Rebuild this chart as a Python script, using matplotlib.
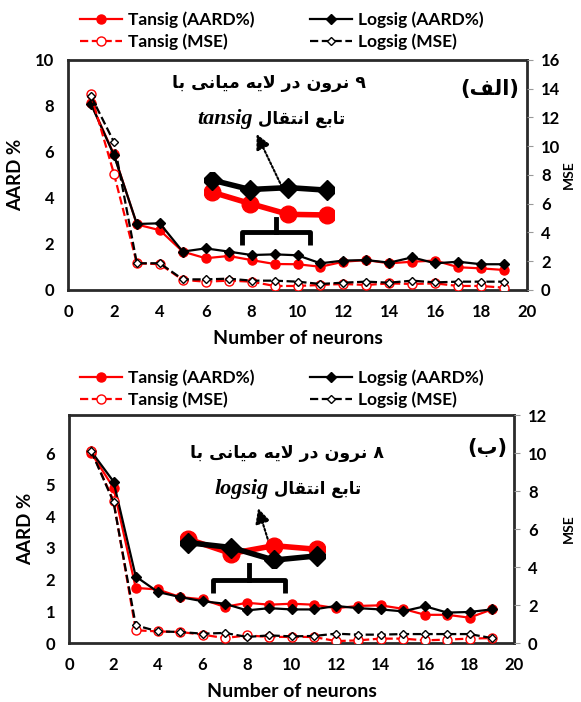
import numpy as np
import matplotlib
matplotlib.use('Agg')
import matplotlib.pyplot as plt
from matplotlib.lines import Line2D

plt.rcParams['font.family'] = ['Lato', 'DejaVu Sans']
plt.rcParams['font.weight'] = 'bold'

####################################################################
# data
neurons = np.arange(1, 20)

# (a) top chart
top_tan_aard = [8.12, 5.9, 2.85, 2.6, 1.67, 1.38, 1.48, 1.30, 1.13, 1.12,
                1.01, 1.23, 1.30, 1.16, 1.23, 1.28, 0.99, 0.94, 0.87]
top_log_aard = [8.09, 5.87, 2.87, 2.9, 1.67, 1.81, 1.67, 1.52, 1.55, 1.51,
                1.16, 1.28, 1.30, 1.19, 1.42, 1.16, 1.23, 1.12, 1.12]
top_tan_mse = [13.6, 8.1, 1.85, 1.8, 0.70, 0.58, 0.65, 0.58, 0.28, 0.28,
               0.35, 0.42, 0.35, 0.46, 0.42, 0.46, 0.28, 0.28, 0.16]
top_log_mse = [13.5, 10.3, 1.86, 1.86, 0.74, 0.74, 0.79, 0.65, 0.65, 0.58,
               0.42, 0.51, 0.58, 0.51, 0.65, 0.53, 0.58, 0.58, 0.58]

# (b) bottom chart
bot_tan_aard = [6.0, 4.9, 1.74, 1.69, 1.45, 1.38, 1.14, 1.27, 1.21, 1.24,
                1.21, 1.10, 1.17, 1.19, 1.08, 0.89, 0.89, 0.80, 1.06]
bot_log_aard = [6.05, 5.1, 2.1, 1.61, 1.45, 1.32, 1.24, 1.03, 1.10, 1.06,
                1.06, 1.17, 1.10, 1.06, 1.00, 1.16, 0.96, 0.98, 1.06]
bot_tan_mse = [10.1, 7.5, 0.67, 0.61, 0.58, 0.44, 0.26, 0.40, 0.32, 0.32,
               0.32, 0.10, 0.14, 0.23, 0.23, 0.14, 0.18, 0.23, 0.26]
bot_log_mse = [10.1, 7.42, 0.93, 0.61, 0.58, 0.49, 0.53, 0.32, 0.40, 0.35,
               0.37, 0.49, 0.44, 0.44, 0.47, 0.47, 0.47, 0.47, 0.26]

labels = ['Tansig (AARD%)', 'Tansig (MSE)', 'Logsig (AARD%)', 'Logsig (MSE)']
####################################################################

# minimal persian shaping (matplotlib has no arabic layout)
AR_FORMS = {
    'ا': ('\ufe8d', '\ufe8e'), 'د': ('\ufea9', '\ufeaa'),
    'ر': ('\ufead', '\ufeae'), 'و': ('\ufeed', '\ufeee'),
    'ب': ('\ufe8f', '\ufe90', '\ufe91', '\ufe92'),
    'ت': ('\ufe95', '\ufe96', '\ufe97', '\ufe98'),
    'ع': ('\ufec9', '\ufeca', '\ufecb', '\ufecc'),
    'ف': ('\ufed1', '\ufed2', '\ufed3', '\ufed4'),
    'ق': ('\ufed5', '\ufed6', '\ufed7', '\ufed8'),
    'ل': ('\ufedd', '\ufede', '\ufedf', '\ufee0'),
    'م': ('\ufee1', '\ufee2', '\ufee3', '\ufee4'),
    'ن': ('\ufee5', '\ufee6', '\ufee7', '\ufee8'),
    'ه': ('\ufee9', '\ufeea', '\ufeeb', '\ufeec'),
    'ی': ('\ufbfc', '\ufbfd', '\ufbfe', '\ufbff'),
}


def shape_fa(text):
    out = []
    prev_joins = False
    i = 0
    while i < len(text):
        c = text[i]
        nxt = text[i + 1] if i + 1 < len(text) else ''
        if c == 'ل' and nxt == 'ا':
            out.append('\ufefc' if prev_joins else '\ufefb')
            prev_joins = False
            i += 2
            continue
        forms = AR_FORMS.get(c)
        if forms is None:
            out.append(c)
            prev_joins = False
        elif len(forms) == 4 and nxt in AR_FORMS:
            out.append(forms[3] if prev_joins else forms[2])
            prev_joins = True
        else:
            out.append(forms[1] if prev_joins else forms[0])
            prev_joins = False
        i += 1
    return ''.join(reversed(out)).translate(str.maketrans('()', ')('))


FA_FONT = 'DejaVu Sans'
W, H = 581, 702


def fig_rect(l, t, r, b):
    return [l / W, 1 - b / H, (r - l) / W, (b - t) / H]


def draw_panel(ax, tan_aard, log_aard, tan_mse, log_mse, ylim, mse_lim, yticks, mse_ticks, mse_x):
    ax.plot(neurons, tan_aard, '-o', color='red', lw=1.6, ms=6.5, zorder=3)
    ax.plot(neurons, log_aard, '-D', color='black', lw=1.6, ms=5, zorder=4)
    ax.set_xlim(0, 20)
    ax.set_ylim(*ylim)
    ax.set_xticks(range(0, 21, 2))
    ax.set_yticks(yticks)
    ax.tick_params(axis='both', length=0, labelsize=12, pad=10)
    ax.set_xlabel('Number of neurons', fontsize=14, fontweight='bold', labelpad=7)
    ax.set_ylabel('AARD %', fontsize=13.5, fontweight='bold', labelpad=8)
    for s in ax.spines.values():
        s.set_linewidth(2)
        s.set_color('#2a2a2a')

    ax2 = ax.twinx()
    ax2.plot(neurons, tan_mse, '--o', color='red', lw=1.6, ms=6.5, mfc='white', zorder=3)
    ax2.plot(neurons, log_mse, '--D', color='black', lw=1.6, ms=4.5, mfc='white', zorder=4)
    ax2.set_ylim(*mse_lim)
    ax2.set_yticks(mse_ticks)
    ax2.tick_params(axis='y', length=4, color='#999999', labelsize=12, pad=6)
    ax2.set_ylabel('MSE', fontsize=10, fontweight='bold')
    ax2.yaxis.set_label_coords(mse_x, 0.5)
    for s in ax2.spines.values():
        s.set_visible(False)
    return ax2


def draw_inset(rect, xlim, ylim, idx, tan_aard, log_aard):
    ins = fig.add_axes(rect)
    sel = slice(idx[0], idx[1])
    ins.plot(neurons[sel], np.array(tan_aard)[sel], '-o', color='red', lw=4, ms=12)
    ins.plot(neurons[sel], np.array(log_aard)[sel], '-D', color='black', lw=4, ms=10)
    ins.set_xlim(*xlim)
    ins.set_ylim(*ylim)
    ins.axis('off')


def draw_bracket(ax, x0, x1, y_end, y_mid, y_top):
    xm = (x0 + x1) / 2
    ax.plot([x0, x0, x1, x1], [y_end, y_mid, y_mid, y_end], color='black', lw=3.5,
            transform=ax.transAxes, solid_joinstyle='round', solid_capstyle='butt', zorder=6)
    ax.plot([xm, xm], [y_mid, y_top], color='black', lw=3.5, transform=ax.transAxes, zorder=6)


def draw_arrow(ax, start, end):
    ax.annotate('', xy=end, xytext=start, xycoords='axes fraction', textcoords='axes fraction',
                arrowprops=dict(arrowstyle='-|>,head_length=0.9,head_width=0.45', color='black',
                                lw=1.5, linestyle=(0, (1, 1)), shrinkA=0, shrinkB=0), zorder=7)


fig = plt.figure(figsize=(W / 100, H / 100), dpi=100)

# ---- top panel (الف)
ax_top = fig.add_axes(fig_rect(68, 60, 527, 290))
draw_panel(ax_top, top_tan_aard, top_log_aard, top_tan_mse, top_log_mse,
           (0, 10), (0, 16), range(0, 11, 2), range(0, 17, 2), 1.078)
ax_top.text(0.919, 0.874, shape_fa('(الف)'), transform=ax_top.transAxes, ha='center', va='center',
            fontsize=15, fontweight='bold', family=FA_FONT)
ax_top.text(0.438, 0.90, shape_fa('۹ نرون در لایه میانی با'), transform=ax_top.transAxes,
            ha='center', va='center', fontsize=12.5, fontweight='bold', family=FA_FONT)
ax_top.text(0.413, 0.743, shape_fa('تابع انتقال'), transform=ax_top.transAxes,
            ha='left', va='center', fontsize=12, fontweight='bold', family=FA_FONT)
ax_top.text(0.403, 0.743, 'tansig', transform=ax_top.transAxes, ha='right', va='center',
            fontsize=16, fontweight='bold', style='italic', family='Liberation Serif')
draw_bracket(ax_top, 0.378, 0.527, 0.196, 0.253, 0.309)
draw_arrow(ax_top, (0.466, 0.449), (0.411, 0.678))
draw_inset(fig_rect(204, 171.7, 334.4, 225.8), (6.8, 10.2), (0.95, 1.8), (6, 10),
           top_tan_aard, top_log_aard)

# ---- bottom panel (ب)
ax_bot = fig.add_axes(fig_rect(69, 415, 514, 643))
draw_panel(ax_bot, bot_tan_aard, bot_log_aard, bot_tan_mse, bot_log_mse,
           (0, 7.2), (0, 12), range(0, 7), range(0, 13, 2), 1.11)
ax_bot.text(0.939, 0.855, shape_fa('(ب)'), transform=ax_bot.transAxes, ha='center', va='center',
            fontsize=15, fontweight='bold', family=FA_FONT)
ax_bot.text(0.489, 0.833, shape_fa('۸ نرون در لایه میانی با'), transform=ax_bot.transAxes,
            ha='center', va='center', fontsize=12.5, fontweight='bold', family=FA_FONT)
ax_bot.text(0.460, 0.675, shape_fa('تابع انتقال'), transform=ax_bot.transAxes,
            ha='left', va='center', fontsize=12, fontweight='bold', family=FA_FONT)
ax_bot.text(0.450, 0.675, 'logsig', transform=ax_bot.transAxes, ha='right', va='center',
            fontsize=16, fontweight='bold', style='italic', family='Liberation Serif')
draw_bracket(ax_bot, 0.323, 0.485, 0.218, 0.276, 0.342)
draw_arrow(ax_bot, (0.452, 0.422), (0.425, 0.591))
draw_inset(fig_rect(179.7, 528.9, 325.3, 567.9), (5.8, 9.2), (0.9, 1.55), (5, 9),
           bot_tan_aard, bot_log_aard)

# ---- legends
handles = [
    Line2D([], [], color='red', lw=1.6, marker='o', ms=6.5),
    Line2D([], [], color='red', lw=1.6, ls='--', marker='o', ms=6.5, mfc='white'),
    Line2D([], [], color='black', lw=1.6, marker='D', ms=5),
    Line2D([], [], color='black', lw=1.6, ls='--', marker='D', ms=4.5, mfc='white'),
]
for yc in (31, 389):
    fig.legend(handles, labels, loc='center', bbox_to_anchor=(282 / W, 1 - yc / H), ncol=2,
               frameon=False, fontsize=12.5, handlelength=2.4, columnspacing=3.2,
               labelspacing=0.3, handletextpad=0.35)

fig.savefig('out.png', dpi=100)
